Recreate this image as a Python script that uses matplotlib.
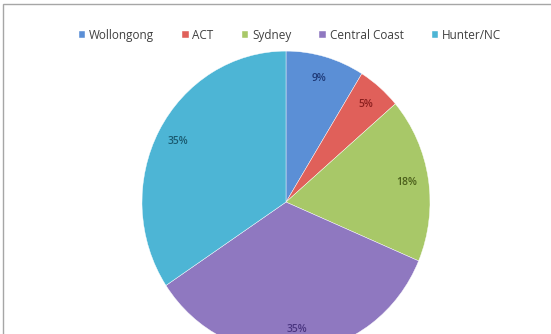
import matplotlib.pyplot as plt
from matplotlib.patches import Rectangle

# Share of responses by region
regions = ['Wollongong', 'ACT', 'Sydney', 'Central Coast', 'Hunter/NC']
shares = [9, 5, 18, 35, 35]
colors = ['#5B8FD6', '#E0605A', '#A8C868', '#8F78C0', '#4DB5D5']
label_colors = ['#1F3A78', '#8A1E1E', '#4A5E1A', '#4A3580', '#1A5A70']

plt.rcParams['font.family'] = ['Open Sans', 'DejaVu Sans']

fig = plt.figure(figsize=(5.51, 3.34), dpi=100)
fig.patch.set_facecolor('white')

# thin grey chart border
fig.add_artist(Rectangle((0.005, -0.02), 1.2, 1.008, transform=fig.transFigure,
                         fill=False, edgecolor='#a6a6a6', linewidth=1.0))

ax = fig.add_axes([0.2577, -0.057, 0.5227, 0.904])
wedges, texts, autotexts = ax.pie(
    shares, colors=colors, startangle=90, counterclock=False,
    autopct=lambda p: '%d%%' % round(p * sum(shares) / 100),
    pctdistance=0.85, wedgeprops=dict(edgecolor='white', linewidth=0.3),
    textprops=dict(fontsize=7.5, fontweight='semibold'))
for t, c in zip(autotexts, label_colors):
    t.set_color(c)
ax.set_aspect('auto')
ax.set_xlim(-1, 1)
ax.set_ylim(-1, 1)

fig.legend(wedges, regions, loc='center', bbox_to_anchor=(0.526, 0.895), ncol=5,
           frameon=False, fontsize=8.5, handlelength=0.55, handleheight=0.55,
           handletextpad=0.3, columnspacing=2.4, labelcolor='#404040')

fig.savefig('out.png', dpi=100)
